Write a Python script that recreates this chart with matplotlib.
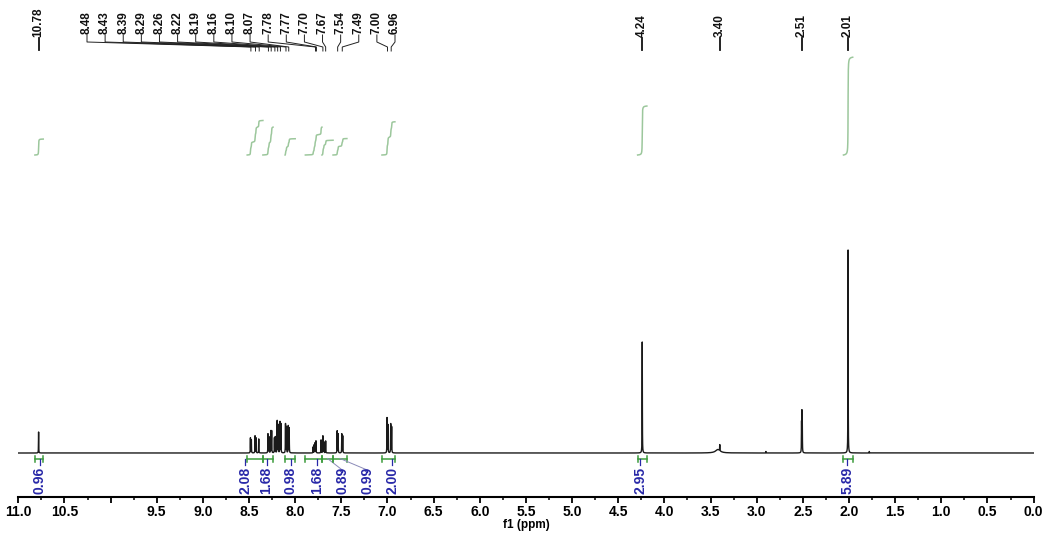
import numpy as np
import matplotlib
matplotlib.use('Agg')
import matplotlib.pyplot as plt
from matplotlib.ticker import MultipleLocator, FixedLocator, FixedFormatter

# ---------------- data ----------------
# resolved lines of the 1H spectrum: position (ppm) and height (px-like intensity units)
line_ppm = [10.78,
            8.485, 8.475, 8.435, 8.425, 8.395,
            8.295, 8.285, 8.265, 8.255, 8.225, 8.215,
            8.195, 8.185, 8.165, 8.155,
            8.105, 8.095, 8.075, 8.065,
            7.805, 7.795, 7.785, 7.775,
            7.72, 7.70, 7.69, 7.67,
            7.545, 7.535, 7.495, 7.485,
            7.005, 6.995, 6.965, 6.955,
            4.24, 3.40, 2.514, 2.510, 2.506, 2.01,
            2.90, 1.78]
line_height = [21,
               15, 13, 17, 15, 14,
               19, 16, 22, 22, 15, 16,
               32, 28, 31, 29,
               29, 26, 27, 25,
               6, 8, 10, 12,
               13, 17, 11, 12,
               22, 19, 19, 17,
               35, 28, 29, 26,
               111, 6, 28, 38, 28, 203,
               1.5, 1.5]
# broad (exchangeable / water) component
broad_ppm = [3.42]
broad_height = [3.5]

baseline_level = 44

# peak-pick labels
multiplet_labels = ['8.48', '8.43', '8.39', '8.29', '8.26', '8.22', '8.19', '8.16', '8.10',
                    '8.07', '7.78', '7.77', '7.70', '7.67', '7.54', '7.49', '7.00', '6.96']
single_labels = ['10.78', '4.24', '3.40', '2.51', '2.01']

# integrals: ranges (ppm), values, label positions (ppm)
int_start = [10.82, 8.52, 8.35, 8.11, 7.89, 7.71, 7.59, 7.06, 4.29, 2.06]
int_end   = [10.73, 8.35, 8.24, 8.00, 7.71, 7.59, 7.44, 6.92, 4.19, 1.96]
int_value = [0.96, 2.08, 1.68, 0.98, 1.68, 0.89, 0.99, 2.00, 2.95, 5.89]
int_label_ppm = [10.77, 8.54, 8.31, 8.05, 7.76, 7.49, 7.22, 6.95, 4.26, 2.02]

xtick_vals = [11.0, 10.5, 10.0, 9.5, 9.0, 8.5, 8.0, 7.5, 7.0, 6.5, 6.0, 5.5, 5.0,
              4.5, 4.0, 3.5, 3.0, 2.5, 2.0, 1.5, 1.0, 0.5, 0.0]
xtick_text = ['11.0', '10.5', '', '9.5', '9.0', '8.5', '8.0', '7.5', '7.0', '6.5', '6.0',
              '5.5', '5.0', '4.5', '4.0', '3.5', '3.0', '2.5', '2.0', '1.5', '1.0', '0.5', '0.0']

# ---------------- style ----------------
plt.rcParams['font.family'] = ['Liberation Sans', 'DejaVu Sans']
W, H = 1047, 534
fig = plt.figure(figsize=(W / 100, H / 100), dpi=100)
x_left_px, x_right_px, axis_px = 18.3, 1033.6, 497
ax = fig.add_axes([x_left_px / W, (H - axis_px) / H, (x_right_px - x_left_px) / W, axis_px / H])
ax.set_xlim(11, 0)
ax.set_ylim(0, axis_px)

def py(px):  # pixel-from-top -> data y
    return axis_px - px

# ---------------- spectrum ----------------
x = np.linspace(0, 11, 110001)
hw = 0.0013
y = np.full_like(x, baseline_level, dtype=float)
for p, h in zip(line_ppm, line_height):
    y += h / (1 + ((x - p) / hw) ** 2)
for p, h in zip(broad_ppm, broad_height):
    y += h / (1 + ((x - p) / 0.03) ** 2)
ax.plot(x, y, color='#1a1a1a', lw=1.0)

# ---------------- integrals ----------------
green_curve = '#9cc79c'
green_br = '#3c9b3c'
blue = '#2828a8'
int_base = py(155)
scale = 16.6
for s, e, v, lp in zip(int_start, int_end, int_value, int_label_ppm):
    m = (x <= s) & (x >= e)
    xs = x[m][::-1]
    ys = (y[m] - baseline_level)[::-1]
    c = np.cumsum(ys)
    c = c / c[-1]
    ax.plot(xs, int_base + c * v * scale, color=green_curve, lw=1.1)
    # bracket
    yb = py(458.5)
    ax.plot([s, e], [yb, yb], color=green_br, lw=1.1)
    for xe in (s, e):
        ax.plot([xe, xe], [yb - 3, yb + 3], color=green_br, lw=1.1)
    mid = 0.5 * (s + e)
    if abs(lp - mid) < 0.12:
        ax.plot([lp, lp], [yb, py(465)], color=blue, lw=0.9)
    else:
        ax.plot([mid, lp], [yb, py(470)], color='#8a8ab8', lw=0.7)
        ax.plot([lp, lp], [py(470), py(472)], color=blue, lw=0.9)
    ax.text(lp, py(494), f'{v:.2f}', rotation=90, ha='center', va='bottom',
            fontsize=10, fontweight='bold', color=blue)

# ---------------- peak labels ----------------
lab_first_px, lab_last_px = 87, 395
px2ppm = lambda px: 11 - (px - x_left_px) / ((x_right_px - x_left_px) / 11)
lab_x = np.linspace(px2ppm(lab_first_px), px2ppm(lab_last_px), len(multiplet_labels))
for lx, t in zip(lab_x, multiplet_labels):
    pk = float(t)
    ax.text(lx, py(34), t, rotation=90, ha='center', va='bottom',
            fontsize=8.5, fontweight='bold', color='#111111')
    ax.plot([lx, lx, pk, pk], [py(35), py(42), py(47), py(51)], color='#222222', lw=0.7)
for t in single_labels:
    pk = float(t)
    ax.text(pk, py(37), t, rotation=90, ha='center', va='bottom',
            fontsize=8.5, fontweight='bold', color='#111111')
    ax.plot([pk, pk], [py(38), py(50)], color='#111111', lw=1.3)

# ---------------- axes ----------------
for sp in ('left', 'right', 'top'):
    ax.spines[sp].set_visible(False)
ax.spines['bottom'].set_linewidth(1.5)
ax.set_yticks([])
ax.xaxis.set_major_locator(FixedLocator(xtick_vals))
ax.xaxis.set_major_formatter(FixedFormatter(xtick_text))
ax.xaxis.set_minor_locator(MultipleLocator(0.25))
ax.tick_params(axis='x', which='major', length=4, width=1.3, pad=2,
               labelsize=10, direction='out')
ax.tick_params(axis='x', which='minor', length=2.5, width=1.1, direction='out')
for lb in ax.get_xticklabels():
    lb.set_fontweight('bold')
ax.set_xlabel('f1 (ppm)', fontsize=8.5, fontweight='bold', labelpad=-0.5)

fig.savefig('out.png', dpi=100)
